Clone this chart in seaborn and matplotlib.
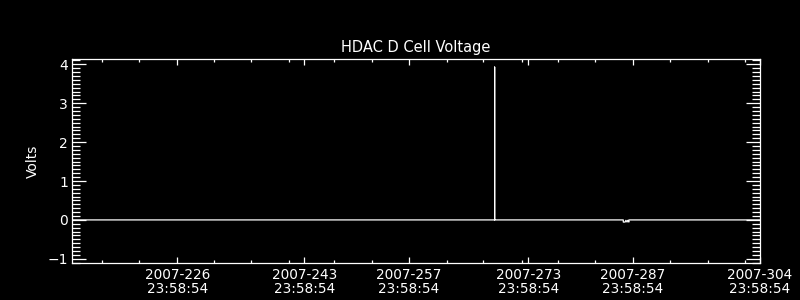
import matplotlib
matplotlib.use("Agg")
import matplotlib.pyplot as plt
import seaborn as sns
import numpy as np

# ---- data (x = fractional day of year 2007) ----
day = [212.95, 269.48, 269.48, 269.48, 286.70, 286.70, 286.95, 287.05,
       287.20, 287.30, 287.45, 287.45, 305.0]
volts = [0.0, 0.0, 3.93, 0.0, 0.0, -0.055, -0.055, -0.01,
         -0.055, -0.01, -0.055, 0.0, 0.0]

major_days = [226, 243, 257, 273, 287, 304]
time_label = "23:58:54"
minor_x = [216.93, 221.88, 231.93, 236.88, 241.97, 247.99, 253.08, 263.12,
           267.94, 273.16, 277.98, 282.94, 292.98, 298.07, 303.02]
title = "HDAC D Cell Voltage"
ylabel = "Volts"

# ---- style ----
sns.set_style("dark", rc={
    "axes.facecolor": "black",
    "figure.facecolor": "black",
    "axes.edgecolor": "white",
    "axes.labelcolor": "white",
    "text.color": "white",
    "xtick.color": "white",
    "ytick.color": "white",
    "axes.grid": False,
    "xtick.bottom": True,
    "ytick.left": True,
})
plt.rcParams["font.family"] = ["DejaVu Sans"]

fig = plt.figure(figsize=(8, 3), dpi=100)
ax = fig.add_axes([72.3 / 800, 1 - 262.7 / 300, (760 - 72.3) / 800, (262.7 - 59.3) / 300])

sns.lineplot(x=day, y=volts, estimator=None, sort=False, color="white",
             linewidth=0.9, ax=ax)

ax.set_xlim(212.95, 305.0)
ax.set_ylim(-1.1, 4.13)

frac = (23 * 3600 + 58 * 60 + 54) / 86400.0
ax.set_xticks([d + frac for d in major_days])
ax.set_xticklabels([f"2007-{d}\n{time_label}" for d in major_days],
                   fontsize=9.8, linespacing=1.05)
ax.set_xticks(minor_x, minor=True)

ax.set_yticks(np.arange(-1, 5, 1))
ax.set_yticks(np.arange(-1.1, 4.15, 0.1), minor=True)
ax.tick_params(axis="y", labelsize=10)

for s in ax.spines.values():
    s.set_color("white")
    s.set_linewidth(0.9)
    s.set_visible(True)

ax.tick_params(axis="both", which="both", direction="in", top=True, right=True,
               bottom=True, left=True, width=0.9, colors="white")
ax.tick_params(axis="x", which="major", length=4.5, pad=3.5)
ax.tick_params(axis="x", which="minor", length=2.2)
ax.tick_params(axis="y", which="major", length=10, pad=3)
ax.tick_params(axis="y", which="minor", length=5.5)

ax.set_title(title, fontsize=10.5, color="white", pad=5)
ax.set_ylabel(ylabel, fontsize=10, color="white")
ax.yaxis.set_label_coords((40 - 72.3) / 687.7, 0.5)
ax.set_xlabel("")

fig.savefig("out.png", dpi=100, facecolor="black")
